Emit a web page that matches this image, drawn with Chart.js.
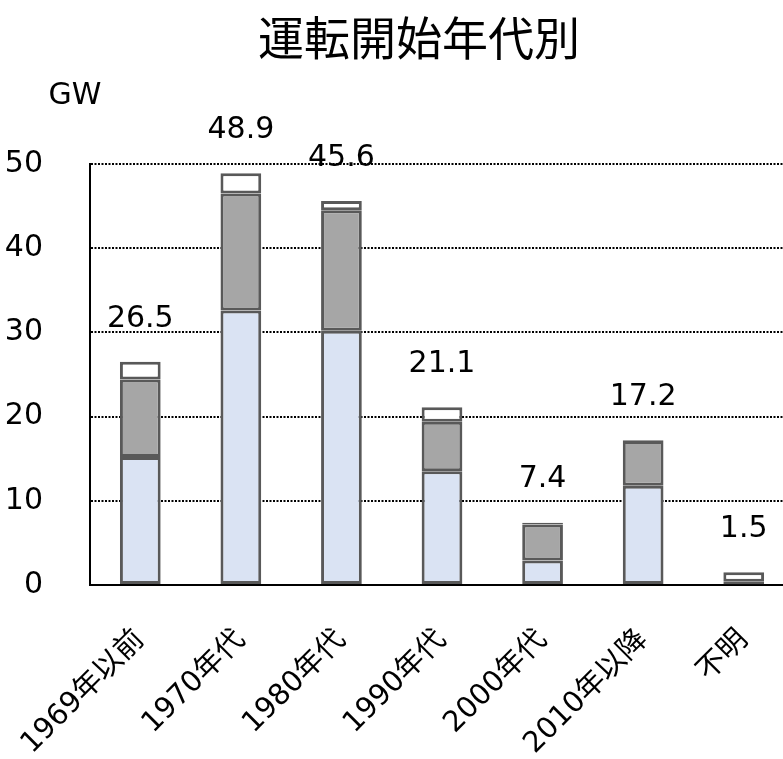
<!DOCTYPE html>
<html>
<head>
<meta charset="utf-8">
<script src="https://cdn.jsdelivr.net/npm/chart.js@4/dist/chart.umd.min.js"></script>
<style>
  html, body { margin: 0; padding: 0; background: #fff; overflow: hidden; }
  #wrap { width: 783px; height: 759px; overflow: hidden; }
</style>
</head>
<body>
<div id="wrap"><canvas id="chart" width="794" height="759"></canvas></div>
<script>
// 運転開始年代別 設備容量 (GW)
const categories = ['1969年以前', '1970年代', '1980年代', '1990年代', '2000年代', '2010年以降', '不明'];
const seriesBlue = [15.2, 32.6, 30.2, 13.5, 2.9, 11.8, 0.1];
const seriesGray = [9.2, 13.9, 14.3, 5.9, 4.3, 5.3, 0.3];
const seriesWhite = [2.1, 2.4, 1.1, 1.7, 0.2, 0.1, 1.1];
const totals = ['26.5', '48.9', '45.6', '21.1', '7.4', '17.2', '1.5'];
const yTicks = [0, 10, 20, 30, 40, 50];

const FONT = '"DejaVu Sans", "Noto Sans CJK JP", sans-serif';
Chart.defaults.font.family = FONT;
Chart.defaults.color = '#000';

// タイトル・単位・合計値ラベル
const labelPlugin = {
    id: 'labels',
    afterDraw(chart) {
        const ctx = chart.ctx;
        const y = chart.scales.y;
        ctx.save();
        ctx.fillStyle = '#000';
        ctx.textAlign = 'center';
        ctx.textBaseline = 'middle';

        ctx.font = '46px ' + FONT;
        ctx.fillText('運転開始年代別', 419, 43);

        ctx.font = '30px ' + FONT;
        ctx.fillText('GW', 75, 96);

        ctx.font = '30px ' + FONT;
        const meta = chart.getDatasetMeta(0);
        meta.data.forEach((bar, i) => {
            const top = seriesBlue[i] + seriesGray[i] + seriesWhite[i];
            ctx.fillText(totals[i], bar.x, y.getPixelForValue(top) - 43);
        });
        ctx.restore();
    }
};

const common = {
    borderColor: '#595959',
    borderWidth: 3,
    borderSkipped: false,
    barPercentage: 0.405,
    categoryPercentage: 1.0
};

new Chart(document.getElementById('chart'), {
    type: 'bar',
    data: {
        labels: categories,
        datasets: [
            { ...common, label: 'a', data: seriesBlue, backgroundColor: '#dae3f3' },
            { ...common, label: 'b', data: seriesGray, backgroundColor: '#a6a6a6' },
            { ...common, label: 'c', data: seriesWhite, backgroundColor: '#ffffff' }
        ]
    },
    options: {
        responsive: false,
        animation: false,
        layout: { padding: { top: 164, left: 0, right: 0, bottom: 0 } },
        plugins: {
            legend: { display: false },
            tooltip: { enabled: false }
        },
        scales: {
            x: {
                stacked: true,
                grid: { display: false, drawTicks: false },
                border: { display: true, color: '#000', width: 2 },
                ticks: {
                    font: { size: 29 },
                    minRotation: 45,
                    maxRotation: 45,
                    autoSkip: false,
                    padding: 38
                },
                afterFit(scale) {
                    scale.height = 174;
                    scale.paddingLeft = 0;
                    scale.paddingRight = 0;
                }
            },
            y: {
                stacked: true,
                min: 0,
                max: 50,
                afterBuildTicks(scale) {
                    scale.ticks = yTicks.map(v => ({ value: v }));
                },
                grid: {
                    drawTicks: false,
                    color: c => (c.tick && c.tick.value === 0) ? 'rgba(0,0,0,0)' : '#000',
                    lineWidth: 2,
                    tickBorderDash: [2, 2]
                },
                border: { display: true, color: '#000', width: 2, dash: [2, 1.5] },
                ticks: {
                    font: { size: 30 },
                    padding: 47
                },
                afterFit(scale) {
                    scale.width = 90;
                    scale.paddingTop = 0;
                    scale.paddingBottom = 0;
                }
            }
        }
    },
    plugins: [labelPlugin]
});
</script>
</body>
</html>
